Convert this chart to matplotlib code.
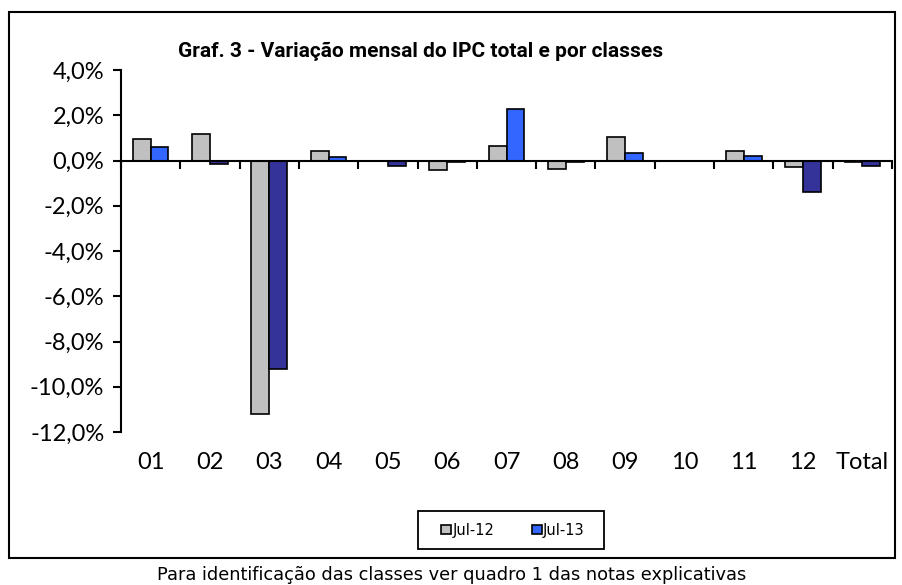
import numpy as np
import matplotlib
matplotlib.use("Agg")
import matplotlib.pyplot as plt
from matplotlib.patches import Rectangle, Patch
from matplotlib.ticker import FuncFormatter

classes = ['01', '02', '03', '04', '05', '06', '07', '08', '09', '10', '11', '12', 'Total']
jul12 = [0.96, 1.15, -11.2, 0.44, -0.03, -0.44, 0.62, -0.37, 1.05, 0.0, 0.44, -0.27, -0.05]
jul13 = [0.60, -0.17, -9.2, 0.15, -0.25, -0.05, 2.29, -0.05, 0.35, 0.0, 0.18, -1.40, -0.25]

gray = '#C0C0C0'
blue_pos = '#3366FF'
blue_neg = '#333399'

fig = plt.figure(figsize=(9.03, 5.85), dpi=100)
ax = fig.add_axes([121/903, 1-432/585, (892-121)/903, (432-70)/585])

x = np.arange(len(classes))
w = 0.30
ax.bar(x - w/2, jul12, w, color=gray, edgecolor='black', linewidth=1.2, zorder=3)
cols13 = [blue_pos if v >= 0 else blue_neg for v in jul13]
ax.bar(x + w/2, jul13, w, color=cols13, edgecolor='black', linewidth=1.2, zorder=3)

ax.set_xlim(-0.5, len(classes) - 0.5)
ax.set_ylim(-12, 4)
ax.set_yticks(np.arange(-12, 4.1, 2))
ax.yaxis.set_major_formatter(FuncFormatter(lambda v, p: ('%.1f%%' % v).replace('.', ',')))

for s in ['top', 'right']:
    ax.spines[s].set_visible(False)
ax.spines['bottom'].set_position(('data', 0))
ax.spines['bottom'].set_linewidth(1.5)
ax.spines['left'].set_linewidth(1.5)
ax.spines['bottom'].set_zorder(4)

ax.set_xticks(np.arange(-0.5, len(classes), 1.0))
ax.tick_params(axis='x', direction='out', length=6, width=1.5, labelbottom=False)
ax.tick_params(axis='y', direction='out', length=6, width=1.5, labelsize=17, pad=6)
for lab in ax.get_yticklabels():
    lab.set_fontfamily('Lato')

trans = ax.get_xaxis_transform()
for i, c in enumerate(classes):
    ax.text(i, -0.083, c, transform=trans, ha='center', va='center',
            fontsize=17, fontfamily='Lato')

# legend (box drawn separately)
handles = [Patch(facecolor=gray, edgecolor='black', linewidth=1.2),
           Patch(facecolor=blue_pos, edgecolor='black', linewidth=1.2)]
leg = fig.legend(handles, ['Jul-12', 'Jul-13'], loc='center',
                 bbox_to_anchor=(513/903, 1-530/585), ncol=2, frameon=False,
                 fontsize=10.5, handlelength=0.65, handleheight=0.65,
                 handletextpad=0.1, columnspacing=2.6)
for t in leg.get_texts():
    t.set_fontfamily('DejaVu Sans')
fig.add_artist(Rectangle((418/903, 1-549/585), (604-418)/903, (549-511)/585,
                         transform=fig.transFigure, fill=False, edgecolor='black', linewidth=1.3))

fig.text(421/903, 1-51/585, 'Graf. 3 - Variação mensal do IPC total e por classes',
         ha='center', va='center', fontsize=15, fontweight='bold', fontfamily='Roboto')

fig.add_artist(Rectangle((9/903, 1-558/585), (895-9)/903, (558-12)/585,
                         transform=fig.transFigure, fill=False, edgecolor='black', linewidth=1.5))

fig.text(452/903, 1-575/585, 'Para identificação das classes ver quadro 1 das notas explicativas',
         ha='center', va='center', fontsize=12.8, fontfamily='DejaVu Sans')

fig.savefig('out.png', dpi=100)
